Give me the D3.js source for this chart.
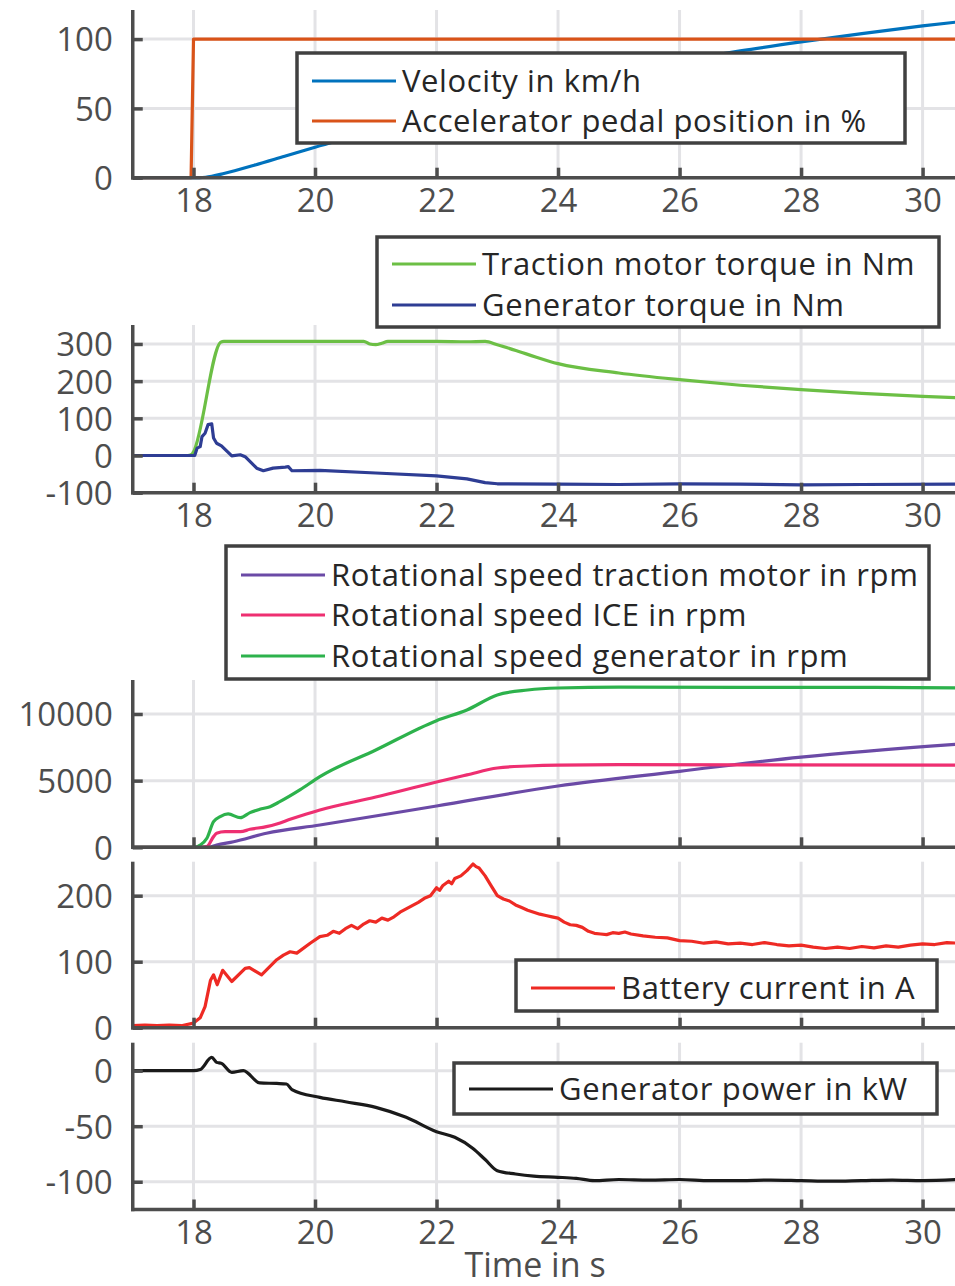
<!DOCTYPE html>
<html><head><meta charset="utf-8">
<script src="https://cdn.jsdelivr.net/npm/d3@7"></script>
<style>body{margin:0;background:#fff}svg{display:block}</style>
</head><body>
<svg id="c" width="955" height="1286"></svg>
<script>
// ---------- DATA ----------
const xTicks = [18,20,22,24,26,28,30];
const xLabel = "Time in s";

// Panel 1
const pedalT = [17, 17.96, 18.0, 30.6];
const pedalV = [0, 0, 100, 100];
const velT = [17, 18.1, 18.2, 18.3, 18.5, 19, 19.5, 20, 21, 22, 23, 24, 25, 26, 27, 28, 29, 30, 30.6];
const velV = [0, 0, 0.3, 1, 3, 9, 15.5, 22, 34, 45.5, 56.5, 66.5, 75.5, 84, 91.5, 98, 104, 109.5, 112.5];
const ticks1 = [0, 50, 100];

// Panel 2
const tqMotT = [17, 17.9, 17.97, 18.0, 18.45, 18.5, 19, 20, 20.8, 20.9, 21.0, 21.1, 21.2, 22, 22.5, 22.8, 23, 23.5, 24, 25, 26, 27, 28, 29, 30, 30.6];
const tqMotV = [0, 0, 3, 10, 305, 307, 307, 307, 307, 300, 298, 302, 307, 307, 306, 307, 298, 272, 247, 222, 204, 189, 177, 167, 159, 155];
const tqGenT = [17, 18.02, 18.06, 18.11, 18.14, 18.19, 18.24, 18.30, 18.33, 18.38, 18.46, 18.63, 18.77, 18.85, 19.04, 19.15, 19.31, 19.51, 19.56, 19.62, 20.08, 21, 22, 22.5, 22.8, 23, 24, 25, 26, 27, 28, 29, 30.6];
const tqGenV = [0, 0, 20, 24, 51, 60, 83, 85, 47, 33, 26, -1, 2, -3, -34, -41, -34, -31, -30, -41, -40, -47, -55, -63, -73, -76, -77, -78, -76, -77, -79, -78, -77];
const ticks2 = [-100, 0, 100, 200, 300];

// Panel 3
const nMotT = [17, 18.24, 18.38, 18.66, 19.2, 20.08, 22, 24, 26, 28, 30.6];
const nMotV = [0, 0, 170, 420, 1050, 1670, 3100, 4600, 5700, 6770, 7750];
const nIceT = [17, 18.11, 18.22, 18.33, 18.38, 18.52, 18.77, 18.93, 19.2, 19.37, 19.59, 19.86, 20.08, 21, 22, 22.5, 23, 23.5, 24, 25, 27, 30.6];
const nIceV = [0, 0, 50, 800, 1050, 1170, 1170, 1350, 1550, 1750, 2100, 2500, 2800, 3770, 4900, 5430, 5950, 6100, 6170, 6200, 6180, 6170];
const nGenT = [17, 18.02, 18.11, 18.22, 18.33, 18.44, 18.57, 18.77, 18.93, 19.09, 19.26, 19.42, 19.75, 20.08, 21, 22, 22.5, 23, 23.5, 24, 25, 27, 29, 30.6];
const nGenV = [0, 0, 170, 675, 1920, 2300, 2500, 2220, 2600, 2850, 3050, 3420, 4300, 5300, 7300, 9500, 10300, 11430, 11800, 11950, 12020, 12000, 12000, 11950];
const ticks3 = [0, 5000, 10000];

// Panel 4
const batT = [17, 17.2, 17.4, 17.6, 17.8, 18.0, 18.11, 18.19, 18.28, 18.33, 18.39, 18.48, 18.63, 18.85, 18.92, 19.12, 19.37, 19.48, 19.59, 19.70, 19.92, 20.08,
  20.2, 20.3, 20.4, 20.5, 20.6, 20.7, 20.8, 20.9, 21.0, 21.1, 21.2, 21.3, 21.4, 21.5, 21.6, 21.7, 21.8, 21.9, 22.0, 22.05, 22.1, 22.2, 22.25, 22.3, 22.4, 22.5, 22.6, 22.65, 22.7, 22.8, 22.9,
  23.0, 23.1, 23.2, 23.3, 23.4, 23.5, 23.6, 23.7, 23.8, 23.9, 24.0, 24.1, 24.2, 24.3, 24.4, 24.5, 24.6, 24.7, 24.8, 24.9, 25.0, 25.1, 25.2, 25.4, 25.6, 25.8,
  26.0, 26.2, 26.4, 26.6, 26.8, 27.0, 27.2, 27.4, 27.6, 27.8, 28.0, 28.2, 28.4, 28.6, 28.8, 29.0, 29.2, 29.4, 29.6, 29.8, 30.0, 30.2, 30.4, 30.6];
const batV = [3, 4, 3, 4, 3, 7, 15, 32, 72, 80, 65, 87, 70, 90, 91, 80, 103, 110, 115, 113, 128, 138,
  140, 146, 143, 150, 155, 150, 157, 162, 160, 166, 163, 168, 175, 180, 185, 190, 196, 200, 212, 208, 215, 222, 218, 226, 230, 238, 248, 244, 242, 230, 215,
  200, 195, 192, 186, 182, 178, 175, 172, 170, 168, 166, 160, 156, 155, 152, 146, 143, 142, 141, 144, 143, 145, 142, 139, 137, 136,
  132, 131, 128, 130, 127, 128, 126, 129, 126, 124, 125, 122, 120, 122, 120, 123, 121, 124, 122, 125, 127, 126, 129, 128];
const ticks4 = [0, 100, 200];

// Panel 5
const pwrT = [17, 18.0, 18.11, 18.30, 18.38, 18.46, 18.63, 18.82, 19.09, 19.37, 19.53, 19.62, 20.08, 20.5, 21, 21.5, 22, 22.3, 22.6, 22.8, 23, 23.3, 23.6, 24, 24.3, 24.6, 25, 25.5, 26, 26.5, 27, 27.5, 28, 28.5, 29, 29.5, 30, 30.6];
const pwrV = [0, 0, 1, 12, 7.5, 6.6, -1.5, 0, -11, -11.5, -12, -17, -24, -28, -33, -42, -55, -60, -70, -80, -90, -93, -95, -96, -97, -99, -98, -98.5, -98, -99, -99, -98.5, -99, -99.5, -99, -98.5, -99, -98];
const ticks5 = [-100, -50, 0];

// ---------- LAYOUT ----------
const svg = d3.select("#c");
const x = d3.scaleLinear().domain([17, 30.55]).range([132.75, 956]);
const AX = "#4d4d4d", GRID = "#e3e3e6", TXT = "#262626";
const FONT = "'Open Sans', 'DejaVu Sans', sans-serif";

const zip = (t, v) => t.map((d, i) => [d, v[i]]);
const SMOOTH = d3.curveMonotoneX, LIN = d3.curveLinear;

const panels = [
  { dom: [0, 121], rng: [177.7, 10], ticks: ticks1, xLabels: true,
    series: [{ d: zip(velT, velV), c: "#0072bd", n: "Velocity in km/h", k: SMOOTH },
             { d: zip(pedalT, pedalV), c: "#d95319", n: "Accelerator pedal position in %", k: LIN }],
    legend: { x: 297, y: 53, w: 608, h: 90, rows: [81, 121] } },
  { dom: [-100, 351], rng: [492.7, 325], ticks: ticks2, xLabels: true,
    series: [{ d: zip(tqMotT, tqMotV), c: "#6cbf45", n: "Traction motor torque in Nm", k: SMOOTH },
             { d: zip(tqGenT, tqGenV), c: "#2e3d94", n: "Generator torque in Nm", k: LIN }],
    legend: { x: 377, y: 237, w: 562, h: 90, rows: [264, 305] } },
  { dom: [0, 12550], rng: [847.3, 680], ticks: ticks3, xLabels: false,
    series: [{ d: zip(nMotT, nMotV), c: "#6b4aa6", n: "Rotational speed traction motor in rpm", k: SMOOTH },
             { d: zip(nIceT, nIceV), c: "#ee2f71", n: "Rotational speed ICE in rpm", k: SMOOTH },
             { d: zip(nGenT, nGenV), c: "#2db24c", n: "Rotational speed generator in rpm", k: SMOOTH }],
    legend: { x: 226, y: 546, w: 703, h: 133, rows: [575, 615, 656] } },
  { dom: [0, 251.5], rng: [1027.7, 861.7], ticks: ticks4, xLabels: false,
    series: [{ d: zip(batT, batV), c: "#ee2a24", n: "Battery current in A", k: LIN }],
    legend: { x: 516, y: 960, w: 421, h: 51, rows: [988] } },
  { dom: [-125, 25.2], rng: [1209.5, 1042.7], ticks: ticks5, xLabels: true,
    series: [{ d: zip(pwrT, pwrV), c: "#1a1a1a", n: "Generator power in kW", k: SMOOTH }],
    legend: { x: 454, y: 1063, w: 483, h: 51, rows: [1089] } }
];

const fmt = d => String(d);

panels.forEach(p => {
  const y = d3.scaleLinear().domain(p.dom).range(p.rng);
  const g = svg.append("g");
  const y0 = p.rng[0], y1 = p.rng[1];
  // grid
  g.selectAll(".vg").data(xTicks).join("line")
    .attr("x1", d => x(d)).attr("x2", d => x(d)).attr("y1", y0).attr("y2", y1)
    .attr("stroke", GRID).attr("stroke-width", 3);
  g.selectAll(".hg").data(p.ticks).join("line")
    .attr("x1", x(17)).attr("x2", 955).attr("y1", d => y(d)).attr("y2", d => y(d))
    .attr("stroke", GRID).attr("stroke-width", 3);
  // lines
  p.series.forEach(s => {
    const line = d3.line().curve(s.k).x(d => x(d[0])).y(d => y(d[1]));
    g.append("path").attr("d", line(s.d)).attr("fill", "none")
      .attr("stroke", s.c).attr("stroke-width", 3.2).attr("stroke-linejoin", "round");
  });
  // axes
  const xa = d3.axisBottom(x).tickValues(xTicks).tickSizeInner(-10).tickSizeOuter(0)
    .tickFormat(p.xLabels ? fmt : () => "");
  const gx = g.append("g").attr("transform", `translate(0,${y0})`).call(xa);
  const ya = d3.axisLeft(y).tickValues(p.ticks).tickSizeInner(-10).tickSizeOuter(0)
    .tickFormat(fmt).tickPadding(20);
  const gy = g.append("g").attr("transform", `translate(${x(17)},0)`).call(ya);
  [gx, gy].forEach(a => {
    a.select(".domain").attr("stroke", AX).attr("stroke-width", 3.5);
    a.selectAll(".tick line").attr("stroke", AX).attr("stroke-width", 3.5);
    a.selectAll(".tick text").attr("fill", AX).style("font-family", FONT).style("font-size", "33px");
  });
  gx.select(".domain").attr("d", `M${x(17) - 1.75},0H955`);
  gy.select(".domain").attr("d", `M0,${y1}V${y0 + 1.75}`);
  gx.selectAll(".tick text").attr("dy", 0).attr("y", 34);
  gy.selectAll(".tick text").attr("dy", "0.36em");
  // legend
  const L = p.legend;
  const lg = g.append("g");
  lg.append("rect").attr("x", L.x).attr("y", L.y).attr("width", L.w).attr("height", L.h)
    .attr("fill", "#fff").attr("stroke", "#404040").attr("stroke-width", 3.5);
  p.series.forEach((s, i) => {
    const ry = L.rows[i];
    lg.append("line").attr("x1", L.x + 15).attr("x2", L.x + 99).attr("y1", ry).attr("y2", ry)
      .attr("stroke", s.c).attr("stroke-width", 3.2);
    lg.append("text").attr("x", L.x + 105).attr("y", ry).attr("dy", "0.35em")
      .attr("fill", TXT).style("font-family", FONT).style("font-size", "31px")
      .style("letter-spacing", "0.6px").text(s.n);
  });
});

svg.append("text").attr("x", 535).attr("y", 1277).attr("text-anchor", "middle")
  .attr("fill", AX).style("font-family", FONT).style("font-size", "34px").text(xLabel);
</script>
</body></html>
